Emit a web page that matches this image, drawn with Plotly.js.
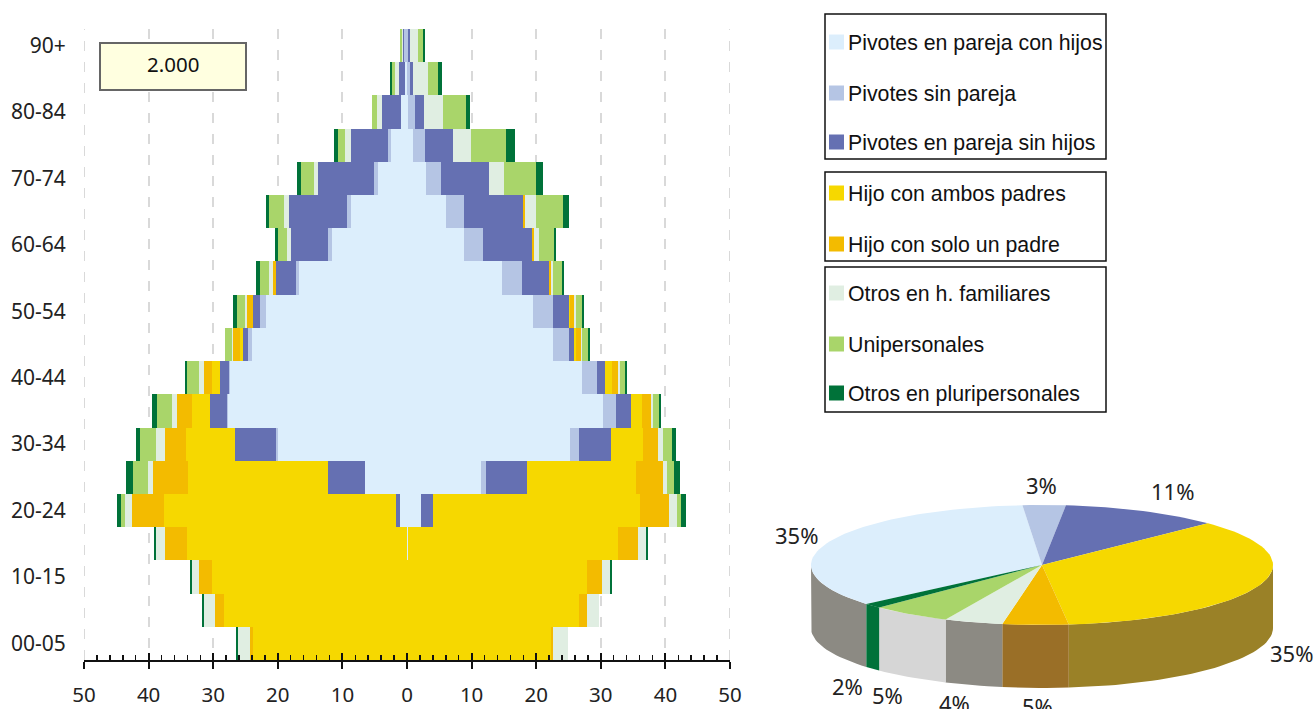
<!DOCTYPE html>
<html><head><meta charset="utf-8">
<script src="https://cdn.plot.ly/plotly-3.0.1.min.js"></script>
<style>html,body{margin:0;padding:0;background:#fff;overflow:hidden}#chart{width:1315px;height:709px}</style>
</head><body><div id="chart"></div>
<script>
const W = 1315, H = 709;
const ageGroups = ["90+","85-89","80-84","75-79","70-74","65-69","60-64","55-59","50-54","45-49","40-44","35-39","30-34","25-29","20-24","15-19","10-15","05-09","00-05"];
const ageTicks = ["90+","80-84","70-74","60-64","50-54","40-44","30-34","20-24","10-15","00-05"];
const seriesNames = ["Pivotes en pareja con hijos","Pivotes sin pareja","Pivotes en pareja sin hijos","Hijo con ambos padres","Hijo con solo un padre","Otros en h. familiares","Unipersonales","Otros en pluripersonales"];
const seriesColors = ["#dceefc","#b5c5e4","#6570b2","#f6d800","#f3bb00","#e0eee2","#a9d56a","#007239"];

// Left side of the pyramid (widths, per thousand, top row first)
const leftConHijos = [0,.35,.95,2.5,4.5,8.7,11.6,16.75,21.9,24,27.4,27.7,20,6.55,1.1,0,0,0,0];
const leftSinPareja = [.5,0,0,.45,.6,.6,.6,.45,.8,.6,.15,.15,.3,0,0,0,0,0,0];
const leftSinHijos = [.05,.95,2.9,5.7,8.7,9,5.7,3.1,1.2,.8,1.4,2.6,6.3,5.7,.6,0,0,0,0];
const leftAmbos = [0,0,0,0,0,0,0,0,0,.45,1.2,2.9,7.6,21.6,35.9,34.1,30.2,28.35,23.9];
const leftSolo = [0,0,0,0,0,0,0,.45,.8,1.1,1.2,2.3,3.2,5.4,4.9,3.4,2,1.4,.45];
const leftFamiliares = [.25,.6,.8,.9,.6,.8,.6,.6,.45,.15,.8,.8,1.4,.8,1.2,1.4,1.1,1.7,1.8];
const leftUnipersonales = [.35,.5,.8,1.2,2,2.2,1.4,1.4,1.2,1.1,1.9,2.3,2.5,2.3,.6,0,0,0,0];
const leftPluri = [0,.3,0,.6,.6,.6,.6,.6,.6,0,.3,.8,.6,1.1,.6,.3,.3,.3,.3];

// Right side of the pyramid
const rightConHijos = [0,.05,.1,1,3,6.1,8.9,14.7,19.5,22.6,27.1,30.4,25.3,11.5,2.1,.1,0,0,0];
const rightSinPareja = [.2,.45,1.1,1.85,2.3,2.8,2.8,3.1,3.1,2.5,2.3,1.9,1.4,.8,0,0,0,0,0];
const rightSinHijos = [.3,.45,1.4,4.2,7.4,9.1,7.6,4.2,2.5,.8,1.2,2.3,4.9,6.3,2,0,0,0,0];
const rightAmbos = [0,0,0,0,0,0,0,0,.2,.3,1.1,1.7,4.9,16.9,31.9,32.6,27.9,26.6,22.3];
const rightSolo = [0,0,0,0,0,.3,.3,.3,.6,.8,.9,1.5,2.3,4.2,4.6,3.1,2.3,1.2,.3];
const rightFamiliares = [1.2,2.3,2.9,2.9,2.3,1.7,.8,.3,.3,.15,.3,.3,.8,.6,1.2,1.2,1.2,1.9,2.3];
const rightUnipersonales = [.8,1.55,3.7,5.3,4.9,4.2,2.3,1.4,.9,.8,.9,.9,1.4,1.1,.6,0,0,0,0];
const rightPluri = [.3,.6,.6,1.4,1.1,.8,.3,.3,.3,.3,.3,.3,.6,.8,.8,.3,.3,0,0];

const axisValues = [-50,-40,-30,-20,-10,0,10,20,30,40,50];
const axisLabels = ["50","40","30","20","10","0","10","20","30","40","50"];

const pieValues = [34.9,3.0,11.1,35.4,4.6,4.1,5.6,1.3];
const pieLabels = ["35%","3%","11%","35%","5%","4%","5%","2%"];
const pieSideColors = ["#8c8a83","#8c8a83","#8c8a83","#9a8127","#9a6f27","#8c8a83","#d6d6d6","#007239"];
const yearLabel = "2.000";

const px = x => x / W, py = y => 1 - y / H;
const TICK_FONT = '"Noto Sans", sans-serif', LEG_FONT = '"Liberation Sans", Arial, sans-serif';

const leftSeries = [leftConHijos,leftSinPareja,leftSinHijos,leftAmbos,leftSolo,leftFamiliares,leftUnipersonales,leftPluri];
const rightSeries = [rightConHijos,rightSinPareja,rightSinHijos,rightAmbos,rightSolo,rightFamiliares,rightUnipersonales,rightPluri];

const traces = [];
seriesNames.forEach((name,i) => {
  traces.push({type:'bar',orientation:'h',name,y:ageGroups,x:leftSeries[i].map(v=>-v),marker:{color:seriesColors[i],line:{width:0}},showlegend:false});
  traces.push({type:'bar',orientation:'h',name,y:ageGroups,x:rightSeries[i],marker:{color:seriesColors[i],line:{width:0}},showlegend:false});
});
// carrier of the second (upward ticks) axis
traces.push({type:'scatter',mode:'markers',x:[0],y:[ageGroups[0]],xaxis:'x3',yaxis:'y',marker:{size:1,opacity:0},showlegend:false});

// 3D pie from pieValues
const total = pieValues.reduce((a,b)=>a+b,0);
const startDeg = -130.5, depth = 1.05, yUnit = 1;
let edges = [startDeg];
pieValues.forEach(v => edges.push(edges[edges.length-1] + v/total*360));
function arc(a0,a1){ const n=Math.max(2,Math.ceil(Math.abs(a1-a0)/2)); const p=[]; for(let k=0;k<=n;k++) p.push(a0+(a1-a0)*k/n); return p; }
const xOf = a => Math.sin(a*Math.PI/180), yOf = a => Math.cos(a*Math.PI/180)*yUnit;
const addPoly = (xs,ys,color) => traces.push({type:'scatter',mode:'lines',x:xs,y:ys,xaxis:'x2',yaxis:'y2',fill:'toself',fillcolor:color,line:{width:0,color:color},showlegend:false});
// sides: only the front half of the rim is visible (90..270 degrees clockwise from top)
pieValues.forEach((v,i) => {
  for (const shift of [0,360]) {
    const a0 = Math.max(edges[i]+shift,90), a1 = Math.min(edges[i+1]+shift,270);
    if (a1 > a0) {
      const a = arc(a0,a1), b = a.slice().reverse();
      addPoly(a.map(xOf).concat(b.map(xOf),[xOf(a0)]), a.map(yOf).concat(b.map(t=>yOf(t)-depth),[yOf(a0)]), pieSideColors[i]);
    }
  }
});
// top face
pieValues.forEach((v,i) => {
  const a = arc(edges[i],edges[i+1]);
  addPoly([0].concat(a.map(xOf),[0]), [0].concat(a.map(yOf),[0]), seriesColors[i]);
});

const shapes = [], annotations = [];
// gridlines at the axis ends
[-50,50].forEach(v => shapes.push({type:'line',layer:'below',xref:'x',yref:'paper',x0:v,x1:v,y0:py(660),y1:py(29),line:{color:'#d9d9d9',width:2,dash:'10px,11px'}}));
// legend boxes
[[14,159],[172,261],[267,412]].forEach(b => shapes.push({type:'rect',xref:'paper',yref:'paper',x0:px(825),x1:px(1106),y0:py(b[0]),y1:py(b[1]),line:{color:'#111',width:1.5},fillcolor:'rgba(0,0,0,0)'}));
const legendY = [42,93,142,193,244,293,344,393];
seriesNames.forEach((n,i) => {
  shapes.push({type:'rect',xref:'paper',yref:'paper',x0:px(829),x1:px(844),y0:py(legendY[i]-7.5),y1:py(legendY[i]+7.5),line:{width:0},fillcolor:seriesColors[i]});
  annotations.push({xref:'paper',yref:'paper',x:px(846),y:py(legendY[i]+0.5),xanchor:'left',yanchor:'middle',showarrow:false,text:n,font:{family:LEG_FONT,size:21.3,color:'#111'}});
});
// year box
shapes.push({type:'rect',xref:'paper',yref:'paper',x0:px(100),x1:px(246),y0:py(43),y1:py(90),fillcolor:'#ffffe0',line:{color:'#666',width:2}});
annotations.push({xref:'paper',yref:'paper',x:px(173),y:py(64),xanchor:'center',yanchor:'middle',showarrow:false,text:yearLabel,font:{family:TICK_FONT,size:20.5,color:'#111'}});
// pie labels
const pieLabelPos = [[796,535],[1041,485],[1172,491],[1291,653],[1037,706],[954,703],[887,695],[847,686]];
pieLabels.forEach((t,i) => annotations.push({xref:'paper',yref:'paper',x:px(pieLabelPos[i][0]),y:py(pieLabelPos[i][1]),xanchor:'center',yanchor:'middle',showarrow:false,text:t,font:{family:TICK_FONT,size:22,color:'#222'}}));

const xDomain = [px(84),px(730)], yDomain = [py(660),py(29)];
const layout = {
  width:W,height:H,margin:{l:0,r:0,t:0,b:0,pad:0},paper_bgcolor:'#fff',plot_bgcolor:'rgba(0,0,0,0)',
  barmode:'relative',bargap:0,showlegend:false,hovermode:false,shapes,annotations,
  xaxis:{domain:xDomain,range:[-50,50],anchor:'y',tickmode:'array',tickvals:axisValues,ticktext:axisLabels,ticks:'outside',ticklen:7,tickwidth:2,tickcolor:'#111',
    showline:true,linecolor:'#111',linewidth:2,zeroline:false,showgrid:true,gridcolor:'#d9d9d9',gridwidth:2,griddash:'10px,11px',ticklabelstandoff:8,
    tickfont:{family:TICK_FONT,size:20.5,color:'#222'}},
  xaxis3:{domain:xDomain,range:[-50,50],overlaying:'x',anchor:'y',side:'bottom',tickmode:'array',tickvals:axisValues,ticks:'inside',ticklen:7,tickwidth:2,tickcolor:'#111',showticklabels:false,showgrid:false,zeroline:false,showline:false,
    minor:{ticks:'inside',ticklen:5,tickwidth:1.5,tickcolor:'#111',dtick:2,tick0:0,showgrid:false}},
  yaxis:{domain:yDomain,type:'category',categoryorder:'array',categoryarray:ageGroups,range:[18.5,-0.5],anchor:'x',tickmode:'array',tickvals:ageTicks,ticktext:ageTicks,showline:false,showgrid:false,zeroline:false,ticks:'outside',ticklen:13,tickcolor:'rgba(0,0,0,0)',
    tickfont:{family:TICK_FONT,size:21,color:'#222'}},
  xaxis2:{domain:[px(787.9),px(1296.1)],range:[-1.1,1.1],anchor:'y2',visible:false,fixedrange:true},
  yaxis2:{domain:[py(700),py(480)],range:[-2.25,1.4167],anchor:'x2',visible:false,fixedrange:true}
};
Plotly.newPlot('chart',traces,layout,{staticPlot:true,displayModeBar:false});
</script></body></html>
